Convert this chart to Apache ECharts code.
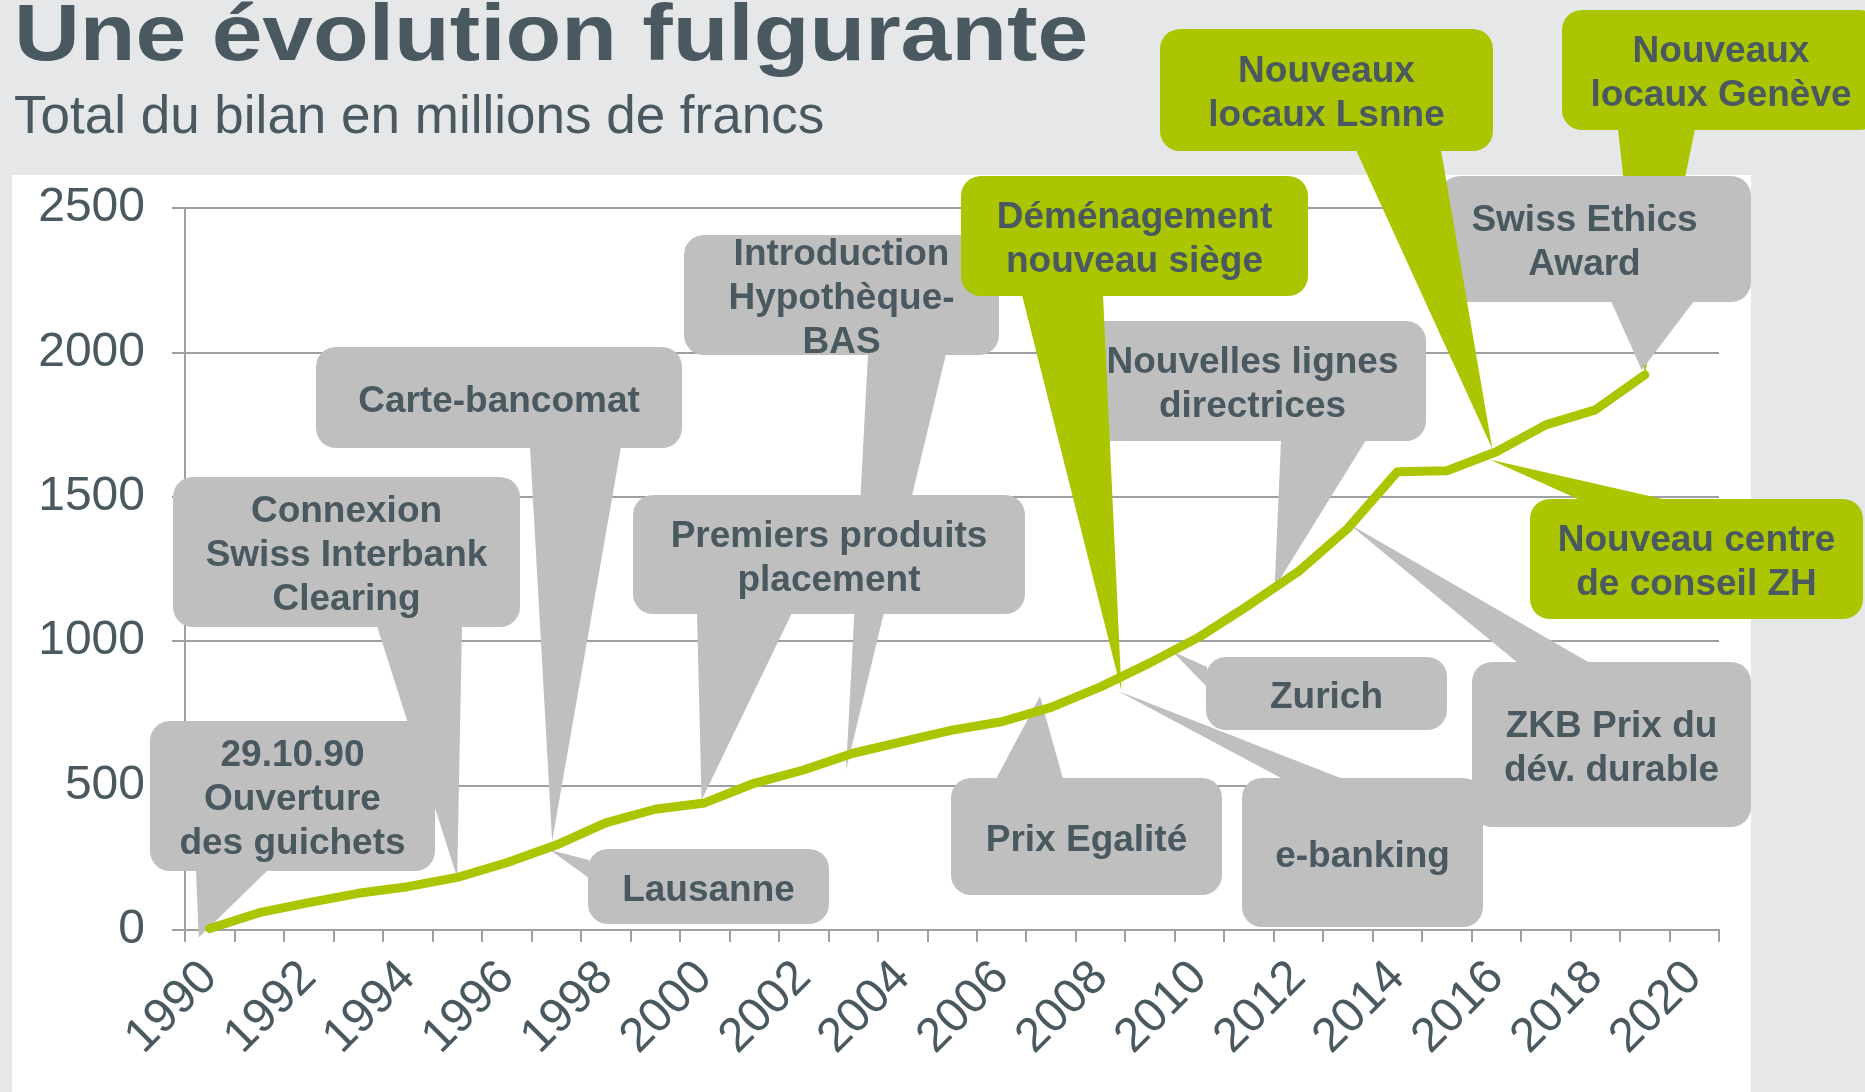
<!DOCTYPE html>
<html>
<head>
<meta charset="utf-8">
<title>Une évolution fulgurante</title>
<script src="https://cdn.jsdelivr.net/npm/echarts@6/dist/echarts.min.js"></script>
<style>
  html, body { margin: 0; padding: 0; background: #e6e7e9; }
  #chart { width: 1865px; height: 1092px; }
</style>
</head>
<body>
<div id="chart"></div>
<script>
// categories 1990 - 2020, one per year
var years = [];
for (var y = 1990; y <= 2020; y++) {
    years.push(String(y));
}
// total du bilan, millions CHF (1990 - 2019)
var bilan = [5, 60, 95, 127, 150, 182, 233, 294, 371, 418,
             440, 508, 554, 612, 652, 692, 721, 771, 842, 925,
             1015, 1125, 1241, 1391, 1587, 1590, 1656, 1749, 1801, 1922];
var yTicks = [0, 500, 1000, 1500, 2000, 2500];

var GREEN = '#abc600';
var GRAY = '#bfbfbf';
var INK = '#4a5860';
var AXIS = '#9ca0a4';
var FONT = '"Liberation Sans", Arial, sans-serif';

// annotations: box [x1,y1,x2,y2], pointer base on a side, tip on the line (data index)
var callouts = [
    { text: ['Nouveaux', 'locaux Genève'], fill: GREEN, box: [1562, 10, 1880, 130], base: ['bottom', 1618, 1695], tip: { i: 29 } },
    { text: ['Swiss Ethics', 'Award'], fill: GRAY, box: [1440, 176, 1751, 302], base: ['bottom', 1611, 1694], tip: { i: 29, dx: -3, dy: -5 }, tx: -11 },
    { text: ['Connexion', 'Swiss Interbank', 'Clearing'], fill: GRAY, box: [173, 477, 520, 627], base: ['bottom', 377, 462], tip: { i: 5 } },
    { text: ['29.10.90', 'Ouverture', 'des guichets'], fill: GRAY, box: [150, 721, 435, 871], base: ['bottom', 196, 268], tip: { i: 0, dx: -11, dy: 9 } },
    { text: ['Carte-bancomat'], fill: GRAY, box: [316, 347, 682, 448], base: ['bottom', 530, 621], tip: { i: 7, dx: -4, dy: -4 } },
    { text: ['Lausanne'], fill: GRAY, box: [588, 849, 829, 924], base: ['left', 860, 878], tip: { i: 7, dx: -6, dy: 5 } },
    { text: ['Introduction', 'Hypothèque-', 'BAS'], fill: GRAY, box: [684, 235, 999, 355], base: ['bottom', 868, 946], tip: { i: 13, dx: -7, dy: 17 } },
    { text: ['Premiers produits', 'placement'], fill: GRAY, box: [633, 495, 1025, 614], base: ['bottom', 697, 792], tip: { i: 10, dx: -3, dy: -3 } },
    { text: ['Nouvelles lignes', 'directrices'], fill: GRAY, box: [1079, 321, 1426, 441], base: ['bottom', 1281, 1366], tip: { i: 21, t: 0.52 } },
    { text: ['Déménagement', 'nouveau siège'], fill: GREEN, box: [961, 176, 1308, 296], base: ['bottom', 1022, 1103], tip: { i: 18, dx: 21, dy: 4 } },
    { text: ['Nouveaux', 'locaux Lsnne'], fill: GREEN, box: [1160, 29, 1493, 151], base: ['bottom', 1356, 1441], tip: { i: 26, dx: -4, dy: -3 } },
    { text: ['Zurich'], fill: GRAY, box: [1206, 657, 1447, 730], base: ['left', 667, 687], tip: { i: 19, t: 0.45 } },
    { text: ['Prix Egalité'], fill: GRAY, box: [951, 778, 1222, 895], base: ['top', 996, 1063], tip: { i: 17, dx: -11, dy: -11 } },
    { text: ['e-banking'], fill: GRAY, box: [1242, 778, 1483, 927], base: ['top', 1283, 1343], tip: { i: 18, dx: 17, dy: 4 } },
    { text: ['ZKB Prix du', 'dév. durable'], fill: GRAY, box: [1472, 662, 1751, 827], base: ['top', 1518, 1590], tip: { i: 23, dy: -5 } },
    { text: ['Nouveau centre', 'de conseil ZH'], fill: GREEN, box: [1530, 499, 1863, 619], base: ['top', 1580, 1667], tip: { i: 26, dx: -6, dy: 8 } }
];

var chart = echarts.init(document.getElementById('chart'));

var option = {
    backgroundColor: '#e6e7e9',
    animation: false,
    grid: {
        left: 185,
        right: 146,
        top: 208,
        bottom: 162,
        containLabel: false
    },
    xAxis: {
        type: 'category',
        data: years,
        boundaryGap: true,
        axisLine: { show: true, lineStyle: { color: AXIS, width: 2 } },
        axisTick: { show: true, interval: 0, length: 12, lineStyle: { color: AXIS, width: 2 } },
        axisLabel: {
            interval: 1,
            rotate: 45,
            margin: 40,
            fontSize: 48,
            fontFamily: FONT,
            color: INK
        },
        splitLine: { show: false }
    },
    yAxis: {
        type: 'value',
        min: yTicks[0],
        max: yTicks[yTicks.length - 1],
        interval: 500,
        axisLine: { show: true, lineStyle: { color: AXIS, width: 2 } },
        axisTick: { show: true, length: 13, lineStyle: { color: AXIS, width: 2 } },
        axisLabel: {
            margin: 40,
            fontSize: 48,
            fontFamily: FONT,
            color: INK,
            formatter: function (v) { return String(v); }
        },
        splitLine: { show: true, lineStyle: { color: AXIS, width: 2 } }
    },
    series: [
        {
            name: 'Total du bilan',
            type: 'line',
            data: bilan,
            symbol: 'none',
            z: 100,
            lineStyle: { color: GREEN, width: 9, cap: 'round', join: 'round' }
        }
    ]
};
chart.setOption(option);

function tipPoint(tip) {
    var p = chart.convertToPixel({ seriesIndex: 0 }, [tip.i, bilan[tip.i]]);
    if (tip.t) {
        var q = chart.convertToPixel({ seriesIndex: 0 }, [tip.i + 1, bilan[tip.i + 1]]);
        p = [p[0] + (q[0] - p[0]) * tip.t, p[1] + (q[1] - p[1]) * tip.t];
    }
    return [p[0] + (tip.dx || 0), p[1] + (tip.dy || 0)];
}

function basePoints(c) {
    var b = c.box, side = c.base[0];
    if (side === 'bottom') return [[c.base[1], b[3] - 1], [c.base[2], b[3] - 1]];
    if (side === 'top') return [[c.base[1], b[1] + 1], [c.base[2], b[1] + 1]];
    return [[b[0] + 1, c.base[1]], [b[0] + 1, c.base[2]]];
}

var elements = [];
// white panel behind the plot
elements.push({
    type: 'rect',
    z: -1,
    shape: { x: 12, y: 175, width: 1739, height: 917 },
    style: { fill: '#ffffff' },
    silent: true
});
// title and subtitle
elements.push({
    type: 'text',
    x: 14,
    y: 38,
    scaleX: 1.14,
    z: 1,
    style: {
        text: 'Une évolution fulgurante',
        fontSize: 80,
        fontWeight: 'bold',
        fontFamily: FONT,
        fill: INK,
        align: 'left',
        verticalAlign: 'middle'
    }
});
elements.push({
    type: 'text',
    x: 14,
    y: 118,
    z: 1,
    style: {
        text: 'Total du bilan en millions de francs',
        fontSize: 53,
        fontFamily: FONT,
        fill: INK,
        align: 'left',
        verticalAlign: 'middle'
    }
});

callouts.forEach(function (c, k) {
    var b = c.box;
    var base = basePoints(c);
    var tip = tipPoint(c.tip);
    var z = 2 + k;
    elements.push({
        type: 'polygon',
        z: z,
        silent: true,
        shape: { points: [base[0], base[1], tip] },
        style: { fill: c.fill }
    });
    elements.push({
        type: 'rect',
        z: z,
        silent: true,
        shape: { x: b[0], y: b[1], width: b[2] - b[0], height: b[3] - b[1], r: 20 },
        style: { fill: c.fill }
    });
    elements.push({
        type: 'text',
        z: z,
        silent: true,
        x: (b[0] + b[2]) / 2 + (c.tx || 0),
        y: (b[1] + b[3]) / 2 + 4,
        style: {
            text: c.text.join('\n'),
            fontSize: 37,
            fontWeight: 'bold',
            fontFamily: FONT,
            lineHeight: 44,
            fill: INK,
            align: 'center',
            verticalAlign: 'middle'
        }
    });
});

chart.setOption({ graphic: { elements: elements } });
</script>
</body>
</html>
